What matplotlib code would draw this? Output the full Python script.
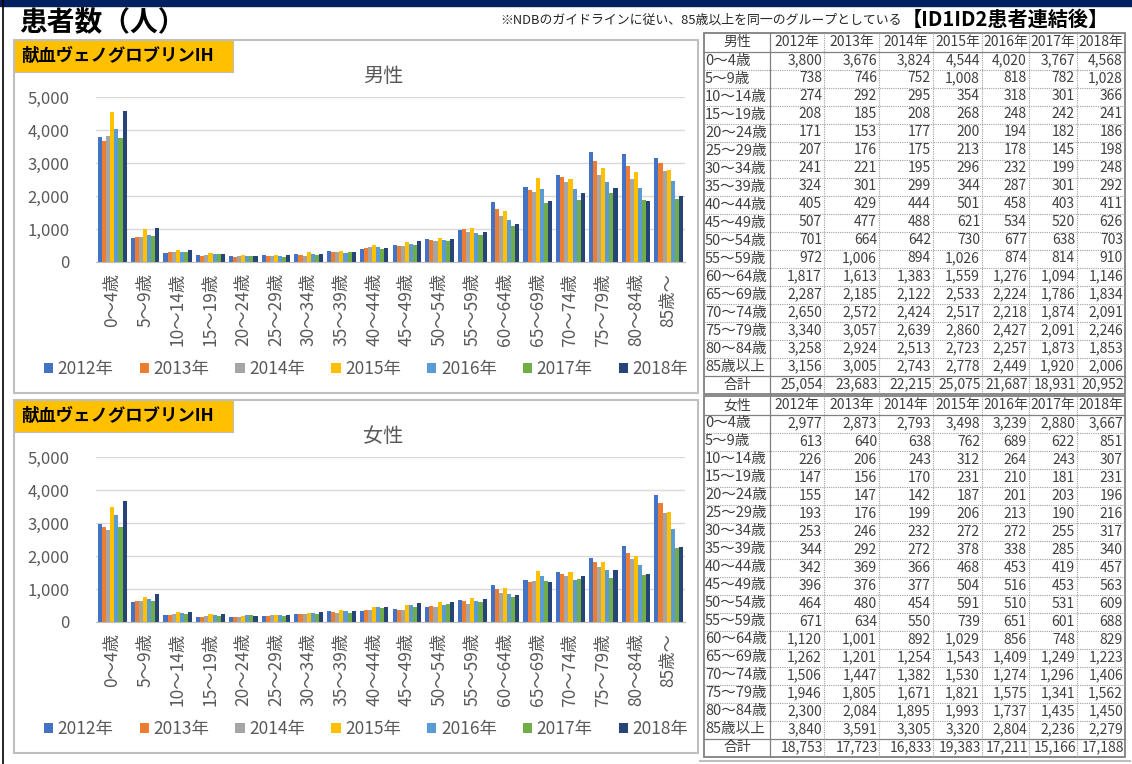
"""Patient counts by age group (male / female), bar charts plus tables."""

import matplotlib
matplotlib.use('Agg')
import matplotlib.pyplot as plt
from matplotlib.patches import Rectangle
from matplotlib.ticker import FuncFormatter
import numpy as np

plt.rcParams['font.family'] = ['Noto Sans CJK JP', 'DejaVu Sans']

W, H = 1132, 764

age_groups = ['0～4歳', '5～9歳', '10～14歳', '15～19歳', '20～24歳', '25～29歳',
              '30～34歳', '35～39歳', '40～44歳', '45～49歳', '50～54歳', '55～59歳',
              '60～64歳', '65～69歳', '70～74歳', '75～79歳', '80～84歳', '85歳以上']
axis_labels = age_groups[:-1] + ['85歳～']
years = ['2012年', '2013年', '2014年', '2015年', '2016年', '2017年', '2018年']
colors = ['#4472C4', '#ED7D31', '#A5A5A5', '#FFC000', '#5B9BD5', '#70AD47', '#264478']

male_2012 = [3800, 738, 274, 208, 171, 207, 241, 324, 405, 507, 701, 972, 1817, 2287, 2650, 3340, 3258, 3156]
male_2013 = [3676, 746, 292, 185, 153, 176, 221, 301, 429, 477, 664, 1006, 1613, 2185, 2572, 3057, 2924, 3005]
male_2014 = [3824, 752, 295, 208, 177, 175, 195, 299, 444, 488, 642, 894, 1383, 2122, 2424, 2639, 2513, 2743]
male_2015 = [4544, 1008, 354, 268, 200, 213, 296, 344, 501, 621, 730, 1026, 1559, 2533, 2517, 2860, 2723, 2778]
male_2016 = [4020, 818, 318, 248, 194, 178, 232, 287, 458, 534, 677, 874, 1276, 2224, 2218, 2427, 2257, 2449]
male_2017 = [3767, 782, 301, 242, 182, 145, 199, 301, 403, 520, 638, 814, 1094, 1786, 1874, 2091, 1873, 1920]
male_2018 = [4568, 1028, 366, 241, 186, 198, 248, 292, 411, 626, 703, 910, 1146, 1834, 2091, 2246, 1853, 2006]
male_total = [25054, 23683, 22215, 25075, 21687, 18931, 20952]

female_2012 = [2977, 613, 226, 147, 155, 193, 253, 344, 342, 396, 464, 671, 1120, 1262, 1506, 1946, 2300, 3840]
female_2013 = [2873, 640, 206, 156, 147, 176, 246, 292, 369, 376, 480, 634, 1001, 1201, 1447, 1805, 2084, 3591]
female_2014 = [2793, 638, 243, 170, 142, 199, 232, 272, 366, 377, 454, 550, 892, 1254, 1382, 1671, 1895, 3305]
female_2015 = [3498, 762, 312, 231, 187, 206, 272, 378, 468, 504, 591, 739, 1029, 1543, 1530, 1821, 1993, 3320]
female_2016 = [3239, 689, 264, 210, 201, 213, 272, 338, 453, 516, 510, 651, 856, 1409, 1274, 1575, 1737, 2804]
female_2017 = [2880, 622, 243, 181, 203, 190, 255, 285, 419, 453, 531, 601, 748, 1249, 1296, 1341, 1435, 2236]
female_2018 = [3667, 851, 307, 231, 196, 216, 317, 340, 457, 563, 609, 688, 829, 1223, 1406, 1562, 1450, 2279]
female_total = [18753, 17723, 16833, 19383, 17211, 15166, 17188]

male = [male_2012, male_2013, male_2014, male_2015, male_2016, male_2017, male_2018]
female = [female_2012, female_2013, female_2014, female_2015, female_2016, female_2017, female_2018]

GRAY = '#595959'
TXT = '#404040'


def px_rect(x0, y0, x1, y1):
    return [x0 / W, 1 - y1 / H, (x1 - x0) / W, (y1 - y0) / H]


fig = plt.figure(figsize=(W / 100, H / 100), dpi=100)
bg = fig.add_axes([0, 0, 1, 1])
bg.set_xlim(0, W)
bg.set_ylim(H, 0)
bg.axis('off')

# header band and title
bg.add_patch(Rectangle((0, 0), W, 6, color='#002060'))
bg.plot([3, 3], [0, H], color='black', lw=1.2)
bg.text(19, 23, '患者数（人）', fontsize=20, fontweight='bold', va='center', ha='left', color='black')
bg.text(902, 20, '※NDBのガイドラインに従い、85歳以上を同一のグループとしている',
        fontsize=9.3, va='center', ha='right', color='#262626')
bg.text(902, 19, '【ID1ID2患者連結後】', fontsize=14.5, fontweight='bold', va='center', ha='left', color='black')


def draw_chart(top, series, title):
    bg.add_patch(Rectangle((14, top), 684, 353, facecolor='white', edgecolor='#bfbfbf', lw=1.5))
    bg.add_patch(Rectangle((14, top), 219, 32, facecolor='#FFC000', edgecolor='#bfbfbf', lw=0.8))
    bg.text(21, top + 16, '献血ヴェノグロブリンIH', fontsize=12.5, fontweight='bold', va='center', color='black')
    bg.text(383, top + 37, title, fontsize=14.5, ha='center', va='center', color=GRAY)

    ax = fig.add_axes(px_rect(96, top + 57, 685, top + 222))
    ax.patch.set_alpha(0)
    x = np.arange(len(axis_labels))
    width = 0.125
    for i, (vals, c, lab) in enumerate(zip(series, colors, years)):
        ax.bar(x + (i - 3) * width, vals, width, color=c, label=lab)
    ax.set_xlim(-0.5, len(axis_labels) - 0.5)
    ax.set_ylim(0, 5000)
    ax.set_yticks(range(0, 5001, 1000))
    ax.yaxis.set_major_formatter(FuncFormatter(lambda v, p: f'{int(v):,}'))
    ax.yaxis.grid(color='#d9d9d9', lw=1)
    ax.set_axisbelow(True)
    for s in ('top', 'right', 'left'):
        ax.spines[s].set_visible(False)
    ax.spines['bottom'].set_color('#bfbfbf')
    ax.tick_params(axis='y', length=0, pad=19, labelsize=12, labelcolor=GRAY)
    ax.set_xticks(x)
    ax.set_xticklabels(axis_labels, rotation=90, fontsize=12.5, color=GRAY)
    ax.tick_params(axis='x', length=0, pad=8)
    ax.legend(loc='center', bbox_to_anchor=(366 / W, 1 - (top + 329) / H),
              bbox_transform=fig.transFigure, ncol=7, frameon=False,
              handlelength=0.55, handleheight=0.55, handletextpad=0.25,
              columnspacing=1.5, fontsize=12.5, labelcolor=GRAY)


def draw_table(top, head, series, totals):
    cols = [704, 770, 824, 879, 933, 982, 1029, 1077, 1125]
    hh = 18.5
    rows = [top] + [top + hh + 18 * k for k in range(len(age_groups) + 1)] + [top + hh + 18 * (len(age_groups) + 1)]
    y_end = rows[-1]
    # grid
    for xc in cols[2:-1]:
        bg.plot([xc, xc], [top, y_end], color='#a0a0a0', lw=0.8, ls=(0, (1, 1)))
    for yr in rows[2:-2]:
        bg.plot([cols[0], cols[-1]], [yr, yr], color='#a0a0a0', lw=0.8, ls=(0, (1, 1)))
    bg.plot([cols[0], cols[-1]], [rows[1], rows[1]], color='#808080', lw=0.9)
    bg.plot([cols[0], cols[-1]], [rows[-2], rows[-2]], color='#808080', lw=0.9)
    bg.plot([cols[1], cols[1]], [top, y_end], color='#808080', lw=0.9)
    bg.add_patch(Rectangle((cols[0], top), cols[-1] - cols[0], y_end - top,
                           fill=False, edgecolor='#808080', lw=1.3))
    fs = 10
    # header
    yc = (rows[0] + rows[1]) / 2
    bg.text((cols[0] + cols[1]) / 2, yc, head, fontsize=fs, ha='center', va='center', color=TXT)
    for j, yl in enumerate(years):
        bg.text((cols[j + 1] + cols[j + 2]) / 2, yc, yl, fontsize=fs, ha='center', va='center', color=TXT)
    for i, age in enumerate(age_groups):
        yc = (rows[i + 1] + rows[i + 2]) / 2
        bg.text(cols[0] + 1, yc, age, fontsize=10.5, ha='left', va='center', color=TXT)
        for j, vals in enumerate(series):
            bg.text(cols[j + 2] - 2, yc, f'{vals[i]:,}', fontsize=fs, ha='right', va='center', color=TXT)
    yc = (rows[-2] + rows[-1]) / 2
    bg.text((cols[0] + cols[1]) / 2, yc, '合計', fontsize=fs, ha='center', va='center', color=TXT)
    for j, t in enumerate(totals):
        bg.text(cols[j + 2] - 1, yc, f'{t:,}', fontsize=fs, ha='right', va='center', color=TXT)


draw_chart(40, male, '男性')
draw_chart(400, female, '女性')
draw_table(33, '男性', male, male_total)
draw_table(396, '女性', female, female_total)
bg.plot([700, 1130], [761, 761], color='#bfbfbf', lw=1.5)

fig.savefig('out.png', dpi=100)
